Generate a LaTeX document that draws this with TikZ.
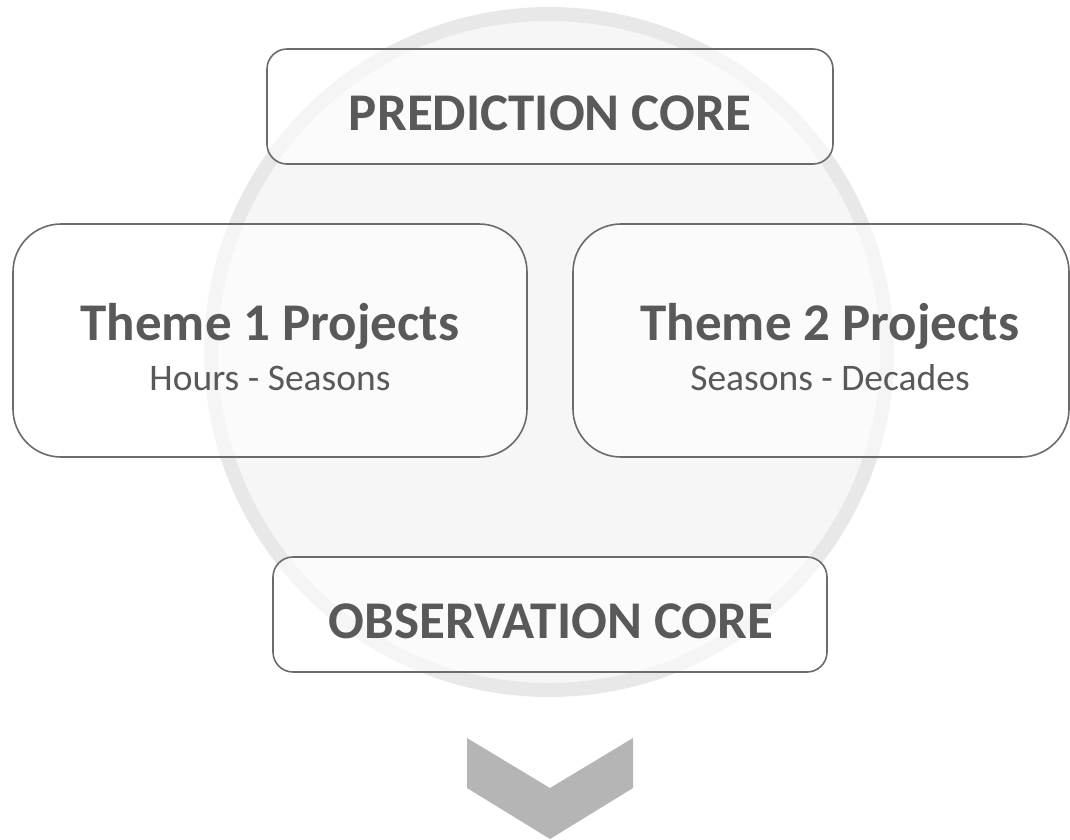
\documentclass[tikz,border=0pt]{standalone}
\usepackage{fontspec}
\setmainfont{Carlito}
\definecolor{txt}{HTML}{595959}
\definecolor{edge}{HTML}{6B6B6B}
\definecolor{ring}{HTML}{E8E8E8}
\definecolor{disc}{HTML}{F6F6F6}
\definecolor{chev}{HTML}{B5B5B5}
\begin{document}
\begin{tikzpicture}[x=1pt,y=-1pt,
  boxshape/.style={draw=edge,line width=1.6pt,fill=white,fill opacity=0.6},
  title/.style={text=txt,font=\bfseries\fontsize{53}{58}\selectfont,anchor=base},
  sub/.style={text=txt,font=\fontsize{37.5}{42}\selectfont,anchor=base}]
\useasboundingbox (0,0) rectangle (1070,839);
% background disc
\fill[disc] (549,352) circle (340);
\draw[ring,line width=14pt] (549,352) circle (338);
% boxes
\draw[boxshape,rounded corners=20pt] (267,49) rectangle (833,164);
\draw[boxshape,rounded corners=48pt] (13,224) rectangle (527,457);
\draw[boxshape,rounded corners=48pt] (573,224) rectangle (1069,457);
\draw[boxshape,rounded corners=20pt] (273,557) rectangle (827,672);
% texts
\node[title] (pc) at (550,130) {PREDICTION CORE};
\node[title] (t1) at (270,340) {Theme 1 Projects};
\node[sub] (s1) at (270,390) {Hours - Seasons};
\node[title] (t2) at (830,340) {Theme 2 Projects};
\node[sub] (s2) at (830,390) {Seasons - Decades};
\node[title] (oc) at (551,638) {OBSERVATION CORE};
% chevron
\fill[chev] (467,738) -- (550,788) -- (633,738) -- (633,788) -- (550,839) -- (467,788) -- cycle;
\end{tikzpicture}
\end{document}
